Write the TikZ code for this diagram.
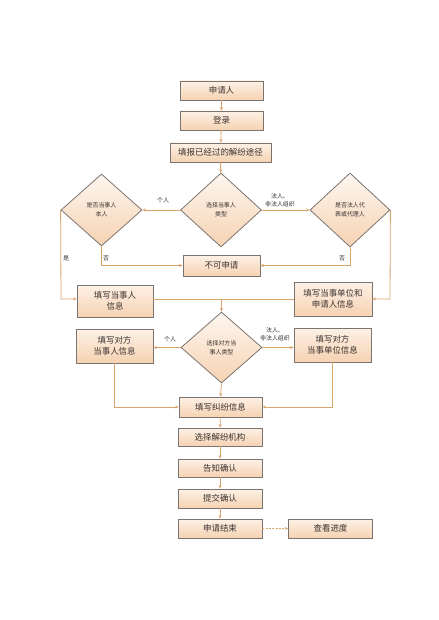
\documentclass[tikz,border=0pt]{standalone}
\usepackage{fontspec}
\setmainfont{Noto Sans CJK SC}
\usetikzlibrary{shapes.geometric,arrows.meta}
\definecolor{edgec}{HTML}{7A7470}
\definecolor{linec}{HTML}{D9A46C}
\definecolor{topc}{HTML}{FDF1E6}
\definecolor{botc}{HTML}{F6D2B2}
\definecolor{txt}{HTML}{3A3330}
\tikzset{
  box/.style={draw=edgec, line width=0.8bp, top color=topc, bottom color=botc,
    font=\fontsize{8.5}{11}\selectfont, text=txt, align=center, inner sep=0pt},
  dia/.style={diamond, draw=edgec, line width=0.8bp, top color=topc!60!white, bottom color=botc,
    font=\fontsize{6}{9}\selectfont, text=txt, align=center, inner sep=0pt, aspect=1.1},
  conn/.style={draw=linec, line width=0.8bp, -{Stealth[length=3.5bp,width=3bp]}},
  plain/.style={draw=linec, line width=0.8bp},
  lab/.style={font=\fontsize{6}{7.5}\selectfont, text=txt, inner sep=0pt, align=center}
}
\begin{document}
\begin{tikzpicture}[x=1bp,y=-1bp]
\useasboundingbox[fill=white] (0,0) rectangle (439,620);
% top chain
\node[box, minimum width=83bp, minimum height=19bp] (a) at (221.5,90.5) {申请人};
\node[box, minimum width=83bp, minimum height=19bp] (b) at (221.5,120.5) {登录};
\node[box, minimum width=101bp, minimum height=19bp] (c) at (220.5,152.5) {填报已经过的解纷途径};
% diamonds
\node[dia, minimum width=81bp, minimum height=72bp] (d1) at (101.5,210) {是否当事人\\本人};
\node[dia, minimum width=81bp, minimum height=74bp] (d2) at (221,210) {选择当事人\\类型};
\node[dia, minimum width=80bp, minimum height=74bp] (d3) at (350,210) {是否法人代\\表或代理人};
\node[box, minimum width=77bp, minimum height=21bp] (n) at (221.5,265.5) {不可申请};
\node[box, minimum width=76bp, minimum height=32bp] (L1) at (115,301) {填写当事人\\信息};
\node[box, minimum width=78bp, minimum height=34bp] (R1) at (333,299) {填写当事单位和\\申请人信息};
\node[dia, minimum width=81bp, minimum height=71bp] (d4) at (221.5,347.5) {选择对方当\\事人类型};
\node[box, minimum width=77bp, minimum height=34bp] (L2) at (114.5,346) {填写对方\\当事人信息};
\node[box, minimum width=77bp, minimum height=34bp] (R2) at (332.5,345) {填写对方\\当事单位信息};
\node[box, minimum width=83bp, minimum height=20bp] (j) at (220.5,407) {填写纠纷信息};
\node[box, minimum width=84bp, minimum height=18bp] (k) at (220,437) {选择解纷机构};
\node[box, minimum width=84bp, minimum height=18bp] (m) at (220,468) {告知确认};
\node[box, minimum width=84bp, minimum height=19bp] (p) at (220,498.5) {提交确认};
\node[box, minimum width=84bp, minimum height=19bp] (q) at (220,528.5) {申请结束};
\node[box, minimum width=84bp, minimum height=19bp] (r) at (330.5,528.5) {查看进度};
% coordinates
\coordinate (j1) at (221.5,299);
\coordinate (lb) at (61,299);
\coordinate (rb) at (390,299);
\coordinate (lf) at (101.5,265.5);
\coordinate (rf) at (350,265.5);
\coordinate (lj) at (114.5,407);
\coordinate (rj) at (332.5,407);
% connectors
\draw[conn] (a) -- (b);
\draw[conn] (b) -- (c);
\draw[conn] (c) -- (d2);
\draw[conn] (d2.west) -- (d1.east);
\draw[conn] (d2.east) -- (d3.west);
\draw[conn] (d1.west) -- (lb) -- (L1.west |- lb);
\draw[conn] (d3.east) -- (rb) -- (R1.east |- rb);
\draw[conn] (d1.south) -- (lf) -- (n.west);
\draw[conn] (d3.south) -- (rf) -- (n.east);
\draw[plain] (L1.east |- j1) -- (R1.west |- j1);
\draw[conn] (j1) -- (d4.north);
\draw[conn] (d4.west) -- (L2.east |- d4.west);
\draw[conn] (d4.east) -- (R2.west |- d4.east);
\draw[conn] (d4.south) -- (j.north);
\draw[conn] (L2.south -| lj) -- (lj) -- (j.west);
\draw[conn] (R2.south -| rj) -- (rj) -- (j.east);
\draw[conn] (j) -- (k);
\draw[conn] (k) -- (m);
\draw[conn] (m) -- (p);
\draw[conn] (p) -- (q);
\draw[conn, dash pattern=on 2bp off 1.3bp] (q) -- (r);
% labels
\node[lab] (t1) at (163,200) {个人};
\node[lab] (t2) at (280,200) {法人、\\非法人组织};
\node[lab] (t3) at (66,258) {是};
\node[lab] (t4) at (106,258) {否};
\node[lab] (t5) at (342,258) {否};
\node[lab] (t6) at (170,339) {个人};
\node[lab] (t7) at (275,334) {法人、\\非法人组织};
\end{tikzpicture}
\end{document}
